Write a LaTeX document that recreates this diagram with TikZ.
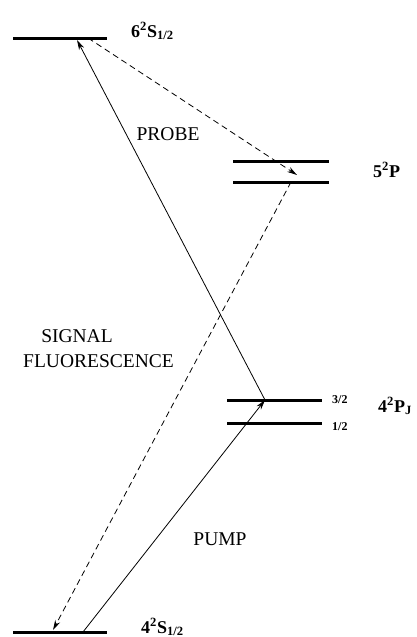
\documentclass[tikz,border=0pt]{standalone}
\usepackage{fontspec}
\setmainfont{Liberation Serif}
\usepackage{tikz}
\usetikzlibrary{arrows.meta,positioning,calc}

\begin{document}
\begin{tikzpicture}[
  x=1pt, y=-1pt,
  >={Stealth[length=10pt,width=5.5pt]},
  level/.style={line width=3pt},
  trans/.style={->, line width=0.8pt},
  decay/.style={->, line width=0.8pt, dash pattern=on 6pt off 4pt},
  term/.style={font=\fontsize{18}{18}\selectfont\bfseries, inner sep=0pt, anchor=base west},
  jval/.style={font=\fontsize{12}{12}\selectfont\bfseries, inner sep=0pt, anchor=base west},
  tag/.style={font=\fontsize{19.5}{19.5}\selectfont, inner sep=0pt, anchor=base}]
  \useasboundingbox (0,0) rectangle (416,637);
  % energy levels
  \draw[level] (13,38) coordinate (s6w) -- (107,38) coordinate (s6e);
  \draw[level] (233,161) coordinate (p5uw) -- (329,161) coordinate (p5ue);
  \draw[level] (233,182) coordinate (p5lw) -- (329,182) coordinate (p5le);
  \draw[level] (227,400) coordinate (p3w) -- (322,400) coordinate (p3e);
  \draw[level] (227,423) coordinate (p1w) -- (322,423) coordinate (p1e);
  \draw[level] (13,632) coordinate (s4w) -- (107,632) coordinate (s4e);
  % end points on the levels
  \coordinate (s6a) at (77,40);
  \coordinate (s6b) at (88,38);
  \coordinate (p5a) at (297,175);
  \coordinate (p5b) at (291,182);
  \coordinate (p3a) at (265,400);
  \coordinate (s4a) at (53,630);
  \coordinate (s4b) at (83,632);
  % term labels
  \node[term] (t6s) at (131,37) {6\textsuperscript{2}S\textsubscript{1/2}};
  \node[term] (t5p) at (373,177) {5\textsuperscript{2}P};
  \node[term] (t4p) at (378,412) {4\textsuperscript{2}P\textsubscript{J}};
  \node[term] (t4s) at (141,633) {4\textsuperscript{2}S\textsubscript{1/2}};
  \node[jval] (j32) at (332,403) {3/2};
  \node[jval] (j12) at (332,430) {1/2};
  % beams
  \node[tag] (probe) at (168,140) {PROBE};
  \node[tag] (pump) at (220,545) {PUMP};
  \node[tag] (signal) at (77,342) {SIGNAL};
  \node[tag] (fluor) at (98.5,367) {FLUORESCENCE};
  \draw[trans] (s4b) -- (p3a);
  \draw[trans] (p3a) -- (s6a);
  \draw[decay] (s6b) -- (p5a);
  \draw[decay] (p5b) -- (s4a);
\end{tikzpicture}
\end{document}
